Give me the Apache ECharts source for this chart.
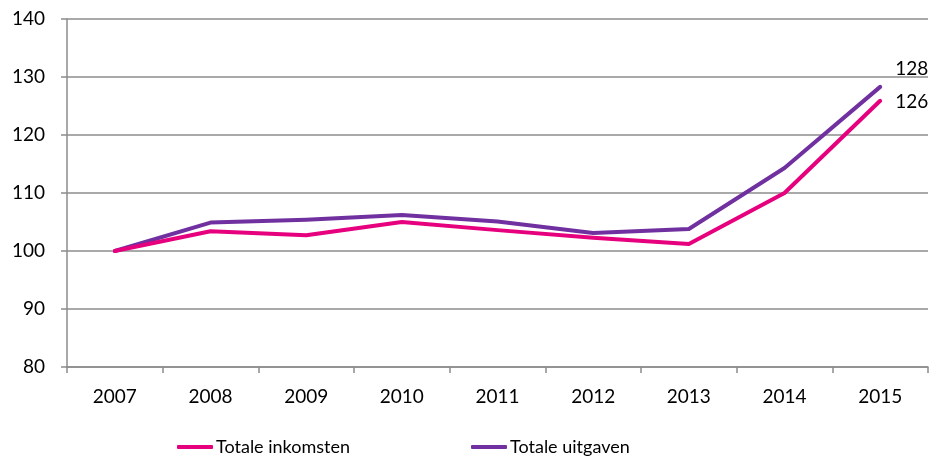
<!DOCTYPE html>
<html>
<head>
<meta charset="utf-8">
<script src="https://cdn.jsdelivr.net/npm/echarts@6/dist/echarts.min.js"></script>
<style>
  html, body { margin: 0; padding: 0; background: #fff; }
  #main { width: 938px; height: 460px; }
</style>
</head>
<body>
<div id="main"></div>
<script>
const years = ['2007', '2008', '2009', '2010', '2011', '2012', '2013', '2014', '2015'];
const inkomsten = [100, 103.4, 102.7, 105.0, 103.6, 102.3, 101.2, 110.0, 125.9];
const uitgaven = [100, 104.9, 105.4, 106.2, 105.1, 103.1, 103.8, 114.3, 128.3];

const pink = '#E6007E';
const purple = '#7030A0';
const axisGrey = '#8C8C8C';
const fontFam = 'Lato, "Open Sans", sans-serif';

// only the last point carries a value label
function withEndLabel(values, offset) {
  return values.map((v, i) => i === values.length - 1
    ? { value: v, label: { show: true, position: 'right', offset: offset, formatter: p => Math.round(p.value) } }
    : v);
}

const legendBase = {
  top: 438, padding: 0,
  icon: 'roundRect', itemWidth: 36, itemHeight: 4,
  textStyle: { fontSize: 18, color: '#000', fontFamily: fontFam, padding: [0, 0, 0, -2] }
};

const chart = echarts.init(document.getElementById('main'));
chart.setOption({
  animation: false,
  textStyle: { fontFamily: fontFam },
  grid: { left: 67, right: 10, top: 19, bottom: 93 },
  legend: [
    Object.assign({ left: 177, data: ['Totale inkomsten'] }, legendBase),
    Object.assign({ left: 471, data: ['Totale uitgaven'] }, legendBase)
  ],
  xAxis: {
    type: 'category',
    data: years,
    boundaryGap: true,
    axisLine: { lineStyle: { color: axisGrey, width: 1.5 } },
    axisTick: { show: true, length: 6, lineStyle: { color: axisGrey, width: 1.5 } },
    axisLabel: { color: '#000', fontSize: 19, margin: 20 }
  },
  yAxis: {
    type: 'value',
    min: 80, max: 140, interval: 10,
    axisLine: { show: true, lineStyle: { color: axisGrey, width: 1.5 } },
    axisTick: { show: true, length: 6, lineStyle: { color: axisGrey, width: 1.5 } },
    splitLine: { lineStyle: { color: axisGrey, width: 1.5 } },
    axisLabel: { color: '#000', fontSize: 19, margin: 22 }
  },
  series: [
    {
      name: 'Totale inkomsten',
      type: 'line',
      data: withEndLabel(inkomsten, [10, 1]),
      symbol: 'circle', symbolSize: 0, showSymbol: true,
      lineStyle: { color: pink, width: 4, cap: 'round', join: 'round' },
      itemStyle: { color: pink },
      label: { color: '#000', fontSize: 19 },
      z: 3
    },
    {
      name: 'Totale uitgaven',
      type: 'line',
      data: withEndLabel(uitgaven, [10, -18]),
      symbol: 'circle', symbolSize: 0, showSymbol: true,
      lineStyle: { color: purple, width: 4, cap: 'round', join: 'round' },
      itemStyle: { color: purple },
      label: { color: '#000', fontSize: 19 },
      z: 2
    }
  ]
});
</script>
</body>
</html>
